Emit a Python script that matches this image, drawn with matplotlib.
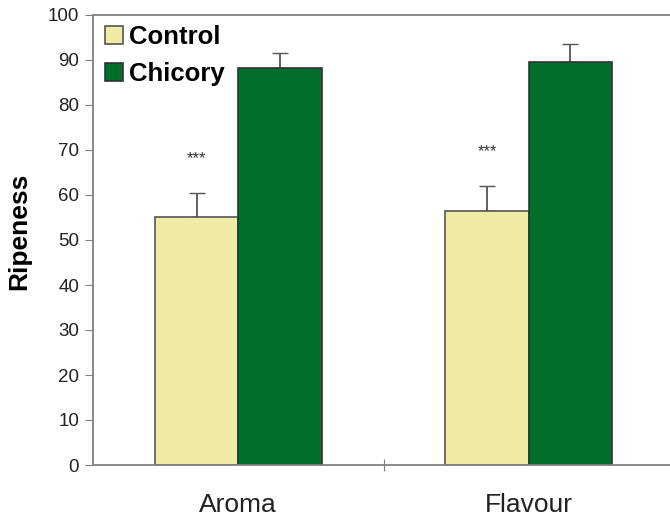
import numpy as np
import matplotlib
matplotlib.use("Agg")
import matplotlib.pyplot as plt

plt.rcParams['font.family'] = ['Liberation Sans', 'DejaVu Sans']

categories = ['Aroma', 'Flavour']
control = [55.0, 56.4]
control_err = [5.4, 5.6]
chicory = [88.2, 89.5]
chicory_err = [3.4, 4.0]
stars = ['***', '***']

fig = plt.figure(figsize=(6.7, 5.18), dpi=100)
ax = fig.add_axes([93 / 670, 1 - 465 / 518, (674 - 93) / 670, 450 / 518])

x = np.arange(len(categories))
w = 0.287
gray = '#808080'
ax.bar(x - w / 2, control, w, color='#f0eca6', edgecolor='#555555', linewidth=1.2,
       label='Control', zorder=2)
ax.bar(x + w / 2, chicory, w, color='#006f2c', edgecolor='#333333', linewidth=1.2,
       label='Chicory', zorder=2)
ekw = dict(fmt='none', ecolor='#555555', capsize=6, elinewidth=1.3, capthick=1.0, zorder=1)
ax.errorbar(x - w / 2, control, yerr=[np.zeros(2), control_err], **ekw)
ax.errorbar(x + w / 2, chicory, yerr=[np.zeros(2), chicory_err], **ekw)

for i, s in enumerate(stars):
    ax.text(x[i] - w / 2, control[i] + control_err[i] + 6, s, ha='center', va='bottom', fontsize=12, color='#333333')

ax.set_xlim(-0.5, 1.5)
ax.set_ylim(0, 100)
ax.set_yticks(np.arange(0, 101, 10))
ax.set_xticks([0.5])
ax.set_xticklabels([''])
ax.tick_params(axis='x', direction='inout', length=8, color=gray)
ax.tick_params(axis='y', direction='out', length=6, color=gray, labelsize=13.5, pad=4, labelcolor='#222222')
for i, c in enumerate(categories):
    ax.text(x[i], -8.9, c, ha='center', va='center', fontsize=19, color='#222222')
for sp in ax.spines.values():
    sp.set_color(gray)
    sp.set_linewidth(1.3)

ax.set_ylabel('Ripeness', fontsize=19, fontweight='bold', labelpad=12, y=0.52)
ax.legend(loc='upper left', frameon=False, prop=dict(size=18.5, weight='bold'),
          handlelength=0.7, handleheight=0.7, handletextpad=0.25, labelspacing=0.5,
          borderaxespad=0.05, bbox_to_anchor=(0.0, 1.003))

fig.savefig('out.png', dpi=100)
